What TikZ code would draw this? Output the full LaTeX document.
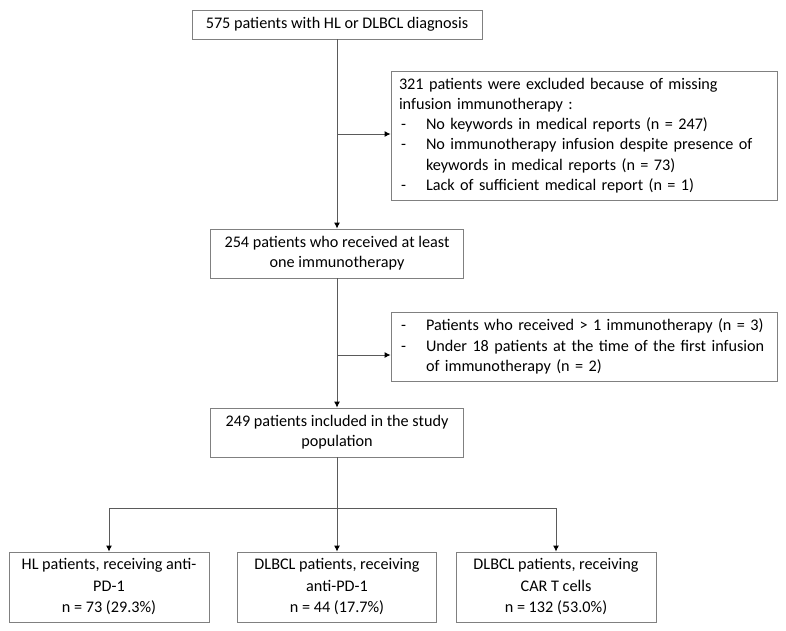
\documentclass[tikz,border=0pt]{standalone}
\usepackage{fontspec}
\setmainfont{Carlito}
\usetikzlibrary{arrows.meta}
\definecolor{boxline}{RGB}{128,128,128}
\definecolor{conline}{RGB}{90,90,90}
\tikzset{
  flowbox/.style={draw=boxline, line width=0.9pt, rectangle, inner sep=0pt, align=center,
    font=\fontsize{16.2}{20.3}\selectfont},
  listbox/.style={flowbox, text width=370pt, align=left},
  groupbox/.style={flowbox, minimum height=70pt, font=\fontsize{16.2}{21.5}\selectfont},
  conn/.style={draw=conline, line width=0.9pt},
  arr/.style={conn, -{Latex[length=6pt,width=6pt,color=black]}}
}
\newcommand{\itm}{\makebox[27pt][l]{\hspace{2pt}-}}
\begin{document}
\begin{tikzpicture}[x=1pt,y=-1pt]
\useasboundingbox (0,0) rectangle (786,630);
\node[flowbox, minimum width=290pt, minimum height=29pt] (b1) at (337,24.5) {575 patients with HL or DLBCL diagnosis};
\node[listbox, minimum width=386pt, minimum height=129pt] (b2) at (584,135.5)
  {\mbox{321 patients were excluded because of missing}\\
   \mbox{infusion immunotherapy :}\\
   \mbox{\itm No keywords in medical reports (n = 247)}\\
   \mbox{\itm No immunotherapy infusion despite presence of}\\
   \mbox{\hspace*{27pt}keywords in medical reports (n = 73)}\\
   \mbox{\itm Lack of sufficient medical report (n = 1)}};
\node[flowbox, minimum width=253pt, minimum height=49pt] (b3) at (337,253.5) {254 patients who received at least\\one immunotherapy};
\node[listbox, minimum width=386pt, minimum height=69pt] (b4) at (584,346.5)
  {\mbox{\itm Patients who received > 1 immunotherapy (n = 3)}\\
   \mbox{\itm Under 18 patients at the time of the first infusion}\\
   \mbox{\hspace*{27pt}of immunotherapy (n = 2)}};
\node[flowbox, minimum width=253pt, minimum height=49pt] (b5) at (337,432.5) {249 patients included in the study\\population};
\node[groupbox, minimum width=200pt] (ba) at (109,587) {HL patients, receiving anti-\\PD-1\\n = 73 (29.3\%)};
\node[groupbox, minimum width=199pt] (bb) at (337,587) {DLBCL patients, receiving\\anti-PD-1\\n = 44 (17.7\%)};
\node[groupbox, minimum width=200pt] (bc) at (556,587) {DLBCL patients, receiving\\CAR T cells\\n = 132 (53.0\%)};
\coordinate (j1) at (337,134);
\coordinate (j2) at (337,355);
\coordinate (br) at (337,508);
\draw[arr] (b1.south) -- (b3.north);
\draw[arr] (j1) -- (j1 -| b2.west);
\draw[arr] (b3.south) -- (b5.north);
\draw[arr] (j2) -- (j2 -| b4.west);
\draw[conn] (b5.south) -- (br);
\draw[arr] (br) -- (bb.north);
\draw[arr] (br) -| (ba.north);
\draw[arr] (br) -| (bc.north);
\end{tikzpicture}
\end{document}
